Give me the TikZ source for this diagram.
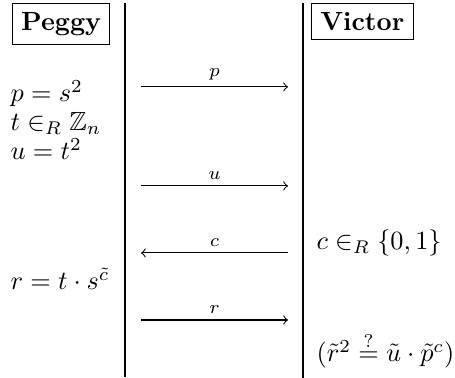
\documentclass[tikz,border=0pt]{standalone}
\usepackage{amsmath,amssymb}
\usetikzlibrary{positioning}

\tikzset{
  party/.style={draw, font=\bfseries, inner sep=3.33pt, anchor=north west},
  step line/.style={anchor=base west, inner sep=0},
  msg/.style={->},
  msglabel/.style={font=\scriptsize, above=-1pt, midway}
}

\begin{document}
\begin{tikzpicture}
      \useasboundingbox (0, 0) rectangle (6.083, 5.053);
      % Parties
      \node[party] (peggy) at (0.16, 5.013) {Peggy};
      \node[party] (victor) at (4.158, 5.013) {Victor};
      % Separating lines
      \coordinate (ltop) at (1.671, 5.013);
      \coordinate (lbot) at (1.671, 0.013);
      \coordinate (rtop) at (4.051, 5.013);
      \coordinate (rbot) at (4.051, 0);
      \draw (ltop) -- (lbot);
      \draw (rtop) -- (rbot);
      % Peggy's side
      \node[step line] (pdef) at (0.134, 3.69) {$p = s^2$};
      \node[step line] (tdef) at (0.134, 3.302) {$t \in_R \mathbb{Z}_n$};
      \node[step line] (udef) at (0.134, 2.914) {$u = t^2$};
      \node[step line] (rdef) at (0.134, 1.176) {$r = t \cdot s^{\tilde{c}}$};
      % Victor's side
      \node[step line] (cdef) at (4.225, 1.711) {$c \in_R \{0, 1\}$};
      \node[step line] (check) at (4.225, 0.214) {$(\tilde{r}^2 \stackrel{?}{=} \tilde{u} \cdot \tilde{p}^c)$};
      % Messages
      \coordinate (pL) at (1.885, 3.891);
      \coordinate (pR) at (3.85, 3.891);
      \coordinate (uL) at (1.885, 2.567);
      \coordinate (uR) at (3.85, 2.567);
      \coordinate (cL) at (1.885, 1.671);
      \coordinate (cR) at (3.85, 1.671);
      \coordinate (rL) at (1.885, 0.775);
      \coordinate (rR) at (3.85, 0.775);
      \draw[msg] (pL) -- (pR) node[msglabel] {$p$};
      \draw[msg] (uL) -- (uR) node[msglabel] {$u$};
      \draw[msg] (cR) -- (cL) node[msglabel] {$c$};
      \draw[msg] (rL) -- (rR) node[msglabel] {$r$};
\end{tikzpicture}
\end{document}
